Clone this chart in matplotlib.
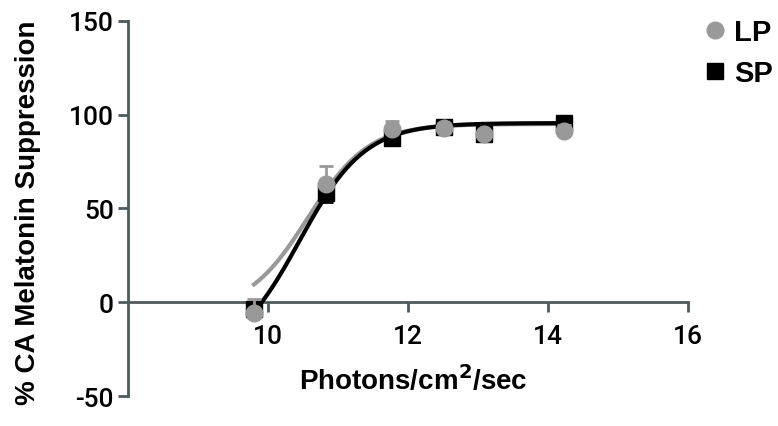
import numpy as np
import matplotlib.pyplot as plt
from matplotlib.lines import Line2D

plt.rcParams['font.family'] = ['Liberation Sans', 'DejaVu Sans']
plt.rcParams['axes.unicode_minus'] = False

# log photons/cm2/sec
x_lp = [9.80, 10.83, 11.77, 12.52, 13.09, 14.22]
y_lp = [-5.5, 63.0, 92.5, 93.0, 89.5, 91.5]
err_lp = [7.0, 9.5, 4.0, 2.5, 2.5, 3.0]

x_sp = [9.80, 10.83, 11.77, 12.52, 13.09, 14.22]
y_sp = [-3.5, 58.0, 87.5, 93.5, 89.5, 95.5]
err_sp = [4.0, 4.5, 3.0, 2.5, 2.5, 2.5]

# sigmoidal dose-response fit parameters (bottom, top, logEC50, hill)
fit_lp = (-5.0, 95.0, 10.57, 1.0)
fit_sp = (-30.0, 95.5, 10.45, 0.93)

axis_col = '#4b5a5e'
lp_col = '#999999'


def dose_resp(x, p):
    bottom, top, ec50, h = p
    return bottom + (top - bottom) / (1 + 10 ** ((ec50 - x) * h))


fig = plt.figure(figsize=(7.78, 4.27), dpi=100)
ax = fig.add_axes([0.1645, 0.070, 0.720, 0.879])

xs = np.linspace(min(x_lp), max(x_lp), 200)
ax.plot(xs, dose_resp(xs, fit_lp), color=lp_col, lw=3, zorder=2)
xs2 = np.linspace(min(x_sp) + 0.08, max(x_sp), 200)
ax.plot(xs2, dose_resp(xs2, fit_sp), color='black', lw=3, zorder=3)

ax.errorbar(x_sp, y_sp, yerr=[err_sp, [0] * len(err_sp)], fmt='s', color='black',
            ms=11, capsize=5, elinewidth=2, capthick=2, zorder=4)
ax.errorbar(x_lp, y_lp, yerr=[[0] * len(err_lp), err_lp], fmt='o', color=lp_col,
            ms=12, capsize=5, elinewidth=2, capthick=2, zorder=5)

ax.set_xlim(8, 16)
ax.set_ylim(-50, 150)
ax.set_xticks([10, 12, 14, 16])
ax.set_yticks([-50, 0, 50, 100, 150])

for s in ['top', 'right']:
    ax.spines[s].set_visible(False)
ax.spines['bottom'].set_position(('data', 0))
for s in ['left', 'bottom']:
    ax.spines[s].set_color(axis_col)
    ax.spines[s].set_linewidth(2)
ax.tick_params(axis='both', colors=axis_col, width=2, length=7, labelcolor='black')
ax.tick_params(axis='x', pad=9)
ax.tick_params(axis='y', pad=3)
for lbl in ax.get_xticklabels() + ax.get_yticklabels():
    lbl.set_family(['Roboto', 'Liberation Sans'])
    lbl.set_fontweight('medium')
    lbl.set_fontsize(19)

ax.set_xlabel('Photons/cm$^\\mathbf{2}$/sec', fontsize=20, fontweight='bold', va='center')
ax.xaxis.set_label_coords(0.509, 0.043)
ax.set_ylabel('% CA Melatonin Suppression', fontsize=20, fontweight='bold', va='center')
ax.yaxis.set_label_coords(-0.179, 0.49)

handles = [Line2D([], [], marker='o', color=lp_col, ls='none', ms=12),
           Line2D([], [], marker='s', color='black', ls='none', ms=11)]
fig.legend(handles, ['LP', 'SP'], loc='upper left', bbox_to_anchor=(0.9, 0.955),
           frameon=False, prop={'weight': 'bold', 'size': 21},
           handletextpad=0.15, labelspacing=0.45, handlelength=1.0,
           borderaxespad=0, borderpad=0)

fig.savefig('out.png', dpi=100)
